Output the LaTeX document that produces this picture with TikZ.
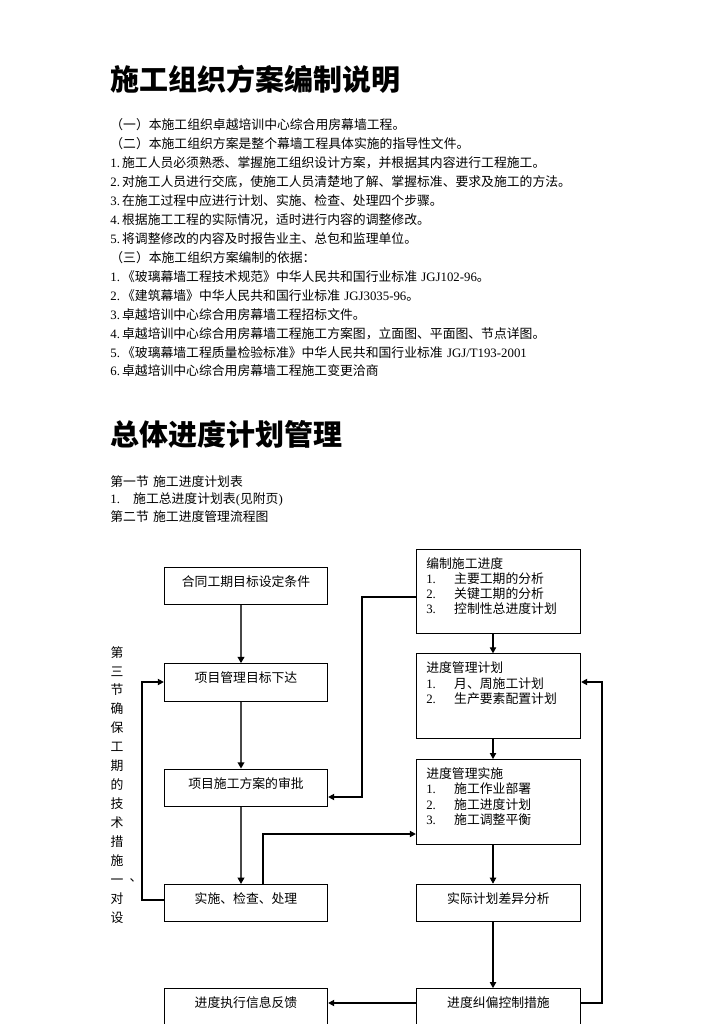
\documentclass[tikz,border=0pt]{standalone}
\usepackage{fontspec}
\setmainfont{Noto Sans CJK SC}
\newfontfamily\tnr{Liberation Serif}
\usepackage{tikz}
\usetikzlibrary{positioning,arrows.meta}
\newcommand{\en}[1]{{\tnr #1}}
\newcommand{\itm}[2]{\makebox[15.9pt][l]{\tnr #1.}#2}

\begin{document}
\begin{tikzpicture}[x=0.02cm,y=-0.02cm,>={Triangle[length=3.4pt,width=3.6pt]},font=\fontsize{7.3pt}{8.7pt}\selectfont]
\tikzstyle{box}=[draw,line width=0.6pt,inner sep=0pt,text height=10.77pt]
\tikzstyle{onebox}=[box,minimum width=93pt,text depth=10.49pt]
\tikzstyle{listbox}=[box,inner xsep=5.67pt,text width=82.2pt,align=left,text depth=37.4pt]
\tikzstyle{fat}=[-{Triangle[length=3.6pt,width=3.8pt,black]},line width=1.1pt,draw=black!72]
\tikzstyle{link}=[->,line width=0.6pt]
\tikzstyle{block}=[anchor=base west,inner sep=0pt,align=left]
\useasboundingbox (0,0) rectangle (724,1024);
% headings and text
\node[block,font=\fontsize{16.5pt}{20pt}\selectfont\bfseries] (title1) at (110,91) {施工组织方案编制说明};
\node[block,text width=300pt,font=\fontsize{7.3pt}{10.77pt}\selectfont] (intro) at (110,130) {（一）本施工组织卓越培训中心综合用房幕墙工程。\\
（二）本施工组织方案是整个幕墙工程具体实施的指导性文件。\\
\en{1.}\,施工人员必须熟悉、掌握施工组织设计方案，并根据其内容进行工程施工。\\
\en{2.}\,对施工人员进行交底，使施工人员清楚地了解、掌握标准、要求及施工的方法。\\
\en{3.}\,在施工过程中应进行计划、实施、检查、处理四个步骤。\\
\en{4.}\,根据施工工程的实际情况，适时进行内容的调整修改。\\
\en{5.}\,将调整修改的内容及时报告业主、总包和监理单位。\\
（三）本施工组织方案编制的依据：\\
\en{1.}\,《玻璃幕墙工程技术规范》中华人民共和国行业标准 \en{JGJ102-96}。\\
\en{2.}\,《建筑幕墙》中华人民共和国行业标准 \en{JGJ3035-96}。\\
\en{3.}\,卓越培训中心综合用房幕墙工程招标文件。\\
\en{4.}\,卓越培训中心综合用房幕墙工程施工方案图，立面图、平面图、节点详图。\\
\en{5.}\,《玻璃幕墙工程质量检验标准》中华人民共和国行业标准 \en{JGJ/T193-2001}\\
\en{6.}\,卓越培训中心综合用房幕墙工程施工变更洽商};
\node[block,font=\fontsize{16.5pt}{20pt}\selectfont\bfseries] (title2) at (110,445) {总体进度计划管理};
\node[block,text width=300pt,font=\fontsize{7.3pt}{10.2pt}\selectfont] (sect) at (110,486) {第一节 施工进度计划表\\
\makebox[13pt][l]{\tnr 1.}施工总进度计划表\en{(}见附页\en{)}\\
第二节 施工进度管理流程图};
\node[anchor=base,inner sep=0pt,text width=8pt,align=center,font=\fontsize{7.3pt}{10.81pt}\selectfont] (side) at (117,657) {第\\三\\节\\确\\保\\工\\期\\的\\技\\术\\措\\施\\一\\对\\设};
\node[inner sep=0pt] (dun) at (136,880) {、};
% flow chart
\node[onebox] (goal) at (246,586) {合同工期目标设定条件};
\node[onebox,below=1.16cm of goal] (issue) {项目管理目标下达};
\node[onebox,below=1.34cm of issue] (approve) {项目施工方案的审批};
\node[onebox,below=1.54cm of approve] (check) {实施、检查、处理};
\node[onebox,below=1.32cm of check] (feedback) {进度执行信息反馈};
\node[listbox] (draft) at (498.5,591.5) {编制施工进度\\\itm{1}{主要工期的分析}\\\itm{2}{关键工期的分析}\\\itm{3}{控制性总进度计划}};
\node[listbox,below=0.38cm of draft] (plan) {进度管理计划\\\itm{1}{月、周施工计划}\\\itm{2}{生产要素配置计划}};
\node[listbox,below=0.40cm of plan] (run) {进度管理实施\\\itm{1}{施工作业部署}\\\itm{2}{施工进度计划}\\\itm{3}{施工调整平衡}};
\node[onebox,minimum width=93.5pt,below=0.78cm of run] (gap) {实际计划差异分析};
\node[onebox,minimum width=93.5pt,below=1.32cm of gap] (fix) {进度纠偏控制措施};
\coordinate (lc) at (241,0);
\coordinate (rc) at (493,0);
\draw[fat] (goal.south -| lc) -- (issue.north -| lc);
\draw[fat] (issue.south -| lc) -- (approve.north -| lc);
\draw[fat] (approve.south -| lc) -- (check.north -| lc);
\draw[link] (draft.south -| rc) -- (plan.north -| rc);
\draw[link] (plan.south -| rc) -- (run.north -| rc);
\draw[link] (run.south -| rc) -- (gap.north -| rc);
\draw[link] (gap.south -| rc) -- (fix.north -| rc);
\coordinate (k1) at (362,597);
\coordinate (k2) at (362,797);
\draw[link] (draft.west |- k1) -- (k1) -- (k2) -- (approve.east |- k2);
\coordinate (k3) at (263,834);
\draw[link] (check.north -| k3) -- (k3) -- (run.west |- k3);
\coordinate (k4) at (142,900);
\coordinate (k5) at (142,682);
\draw[link] (check.west |- k4) -- (k4) -- (k5) -- (issue.west |- k5);
\coordinate (k6) at (602,1003);
\coordinate (k7) at (602,682);
\draw[link] (fix.east |- k6) -- (k6) -- (k7) -- (plan.east |- k7);
\draw[link] (fix.west |- k6) -- (feedback.east |- k6);
\end{tikzpicture}
\end{document}
